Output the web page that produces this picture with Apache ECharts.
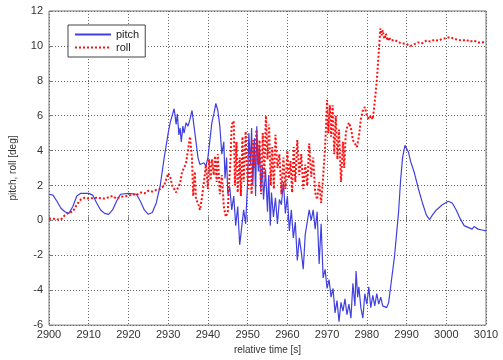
<!DOCTYPE html>
<html>
<head>
<meta charset="utf-8">
<script src="https://cdn.jsdelivr.net/npm/echarts@6/dist/echarts.min.js"></script>
<style>
  html, body { margin: 0; padding: 0; background: #fff; }
  #chart { width: 503px; height: 360px; }
</style>
</head>
<body>
<div id="chart"></div>
<script>
// pitch [t, deg]
var pitch = [
  [2900, 1.5], [2901, 1.45], [2902, 1.1], [2903, 0.7], [2904, 0.5], [2905, 0.4], [2906, 0.8], [2907, 1.4],
  [2908, 1.55], [2910, 1.55], [2911, 1.45], [2912, 1.0], [2913, 0.6], [2914, 0.4], [2915, 0.35], [2916, 0.6],
  [2917, 1.1], [2918, 1.5], [2920, 1.55], [2922, 1.5], [2923, 1.1], [2924, 0.6], [2925, 0.35], [2925.5, 0.3],
  [2926, 0.45], [2927, 1.0], [2928, 2.0], [2929, 3.6], [2930, 5.0], [2930.5, 5.6], [2931, 5.7], [2931.5, 6.4],
  [2932, 5.5], [2932.3, 6.1], [2932.7, 4.9], [2933, 5.3], [2933.3, 4.5], [2933.7, 5.4], [2934, 5.0], [2934.5, 5.6],
  [2935, 5.4], [2935.5, 5.8], [2936, 6.3], [2936.5, 5.4], [2937, 4.5], [2937.5, 3.6], [2938, 3.2], [2939, 3.3],
  [2939.5, 3.1], [2940, 3.6], [2940.5, 4.6], [2941, 5.6], [2941.5, 6.1], [2942, 6.7], [2942.5, 6.3], [2943, 5.4],
  [2943.5, 3.8], [2944, 4.5], [2944.3, 2.4], [2944.7, 3.6], [2945, 1.5], [2945.5, 1.9], [2946, 0.6], [2946.5, 1.4],
  [2947, -0.3], [2947.5, 0.8], [2948, -1.4], [2948.5, -0.4], [2949, 0.6], [2949.5, -0.2], [2950, 2.2], [2950.3, 5.0],
  [2950.7, 3.2], [2951, 5.3], [2951.3, 2.0], [2951.7, 4.7], [2952, 1.4], [2952.3, 5.4], [2952.7, 2.8], [2953, 4.3],
  [2953.3, 1.8], [2953.7, 3.1], [2954, 1.2], [2954.5, 2.9], [2955, 0.5], [2955.3, 2.6], [2955.7, -0.3], [2956, 1.6],
  [2956.5, 0.2], [2957, 1.3], [2957.5, -0.2], [2958, 1.2], [2958.5, 0.9], [2959, 2.2], [2959.5, 0.4], [2960, 1.4],
  [2960.5, -0.6], [2961, 0.6], [2961.5, -1.0], [2962, -0.1], [2962.5, -2.3], [2963, -1.0], [2963.5, -1.8], [2964, -2.8],
  [2964.5, -0.8], [2965, -0.1], [2965.5, 0.6], [2966, 0.0], [2966.5, 0.6], [2967, -0.5], [2967.5, 0.5], [2968, -2.5],
  [2968.5, -0.2], [2969, -3.3], [2969.5, -2.8], [2970, -3.9], [2970.5, -3.4], [2971, -4.4], [2971.5, -3.9], [2972, -5.3],
  [2972.5, -4.6], [2973, -5.8], [2973.5, -4.7], [2974, -5.2], [2974.5, -4.5], [2975, -5.4], [2975.5, -4.8], [2976, -5.6],
  [2976.5, -3.6], [2977, -4.9], [2977.3, -2.9], [2977.7, -4.4], [2978, -3.8], [2978.5, -5.0], [2979, -5.6], [2979.5, -4.2],
  [2980, -4.8], [2980.5, -3.8], [2981, -5.0], [2981.5, -4.3], [2982, -4.9], [2982.5, -4.2], [2983, -4.8], [2983.5, -4.4],
  [2984, -4.9], [2985, -5.0], [2985.5, -4.7], [2986, -3.8], [2987, -2.0], [2988, 0.5], [2988.5, 2.3], [2989, 3.6],
  [2989.6, 4.3], [2990, 4.2], [2990.5, 3.9], [2991, 3.4], [2992, 2.7], [2993, 1.8], [2994, 1.0], [2995, 0.3],
  [2995.8, 0.05], [2996.5, 0.3], [2997.5, 0.6], [2999, 0.9], [3000.5, 1.1], [3001.5, 1.0], [3002.5, 0.6], [3003.5, 0.1],
  [3004.5, -0.3], [3005.5, -0.4], [3006.5, -0.5], [3007, -0.35], [3008, -0.5], [3009, -0.55], [3010, -0.6]
];

// roll [t, deg]
var roll = [
  [2900, 0.1], [2901, 0.1], [2902, 0.05], [2903, 0.05], [2904, 0.3], [2905, 0.45], [2906, 0.5], [2907, 0.9],
  [2908, 1.2], [2909, 1.3], [2910, 1.25], [2912, 1.3], [2914, 1.25], [2916, 1.4], [2917, 1.25], [2918, 1.35],
  [2920, 1.4], [2921, 1.5], [2922, 1.45], [2923, 1.6], [2924, 1.55], [2925, 1.7], [2926, 1.65], [2927, 1.75],
  [2928, 1.8], [2929, 2.0], [2930, 2.7], [2930.5, 2.5], [2931, 2.0], [2932, 1.6], [2932.5, 1.9], [2933, 2.1],
  [2933.5, 2.8], [2934, 3.0], [2934.5, 3.3], [2935, 3.4], [2935.5, 4.8], [2936, 3.5], [2936.3, 1.4], [2936.7, 2.8],
  [2937, 1.2], [2937.5, 1.0], [2938, 0.6], [2938.5, 1.3], [2939, 2.2], [2939.5, 3.2], [2940, 1.8], [2940.3, 3.5],
  [2940.7, 2.3], [2941, 3.5], [2941.5, 2.6], [2941.8, 3.7], [2942.2, 2.2], [2942.5, 3.8], [2943, 1.5], [2943.5, 2.6],
  [2944, 0.8], [2944.5, 0.2], [2945, 0.5], [2945.3, 2.0], [2945.7, 3.5], [2946, 5.5], [2946.5, 5.7], [2946.8, 2.0],
  [2947.2, 4.5], [2947.5, 1.6], [2948, 3.6], [2948.3, 1.4], [2948.7, 4.8], [2949, 2.2], [2949.5, 5.1], [2949.8, 3.0],
  [2950.2, 1.8], [2950.6, 4.1], [2951, 1.5], [2951.4, 4.6], [2951.8, 3.0], [2952.2, 5.2], [2952.6, 3.2], [2953, 4.6],
  [2953.4, 1.5], [2953.8, 5.0], [2954.2, 2.5], [2954.6, 6.0], [2955, 3.5], [2955.4, 5.5], [2955.8, 2.0], [2956.2, 4.2],
  [2956.6, 1.8], [2957, 4.9], [2957.5, 3.0], [2958, 3.8], [2958.5, 1.5], [2959, 3.6], [2959.5, 1.8], [2960, 4.0],
  [2960.4, 2.4], [2960.8, 3.4], [2961.2, 1.6], [2961.6, 4.2], [2962, 2.2], [2962.5, 4.6], [2963, 2.6], [2963.5, 3.8],
  [2964, 1.8], [2964.5, 3.2], [2965, 2.0], [2965.5, 4.4], [2966, 2.5], [2966.5, 3.6], [2967, 1.6], [2967.5, 1.2],
  [2968, 2.2], [2968.5, 1.0], [2969, 2.5], [2969.5, 4.2], [2970, 6.9], [2970.3, 5.0], [2970.7, 6.6], [2971, 4.8],
  [2971.4, 6.6], [2971.8, 3.8], [2972.2, 6.0], [2972.6, 3.5], [2973, 5.2], [2973.5, 2.2], [2974, 4.5], [2974.3, 3.0],
  [2974.7, 5.0], [2975, 5.3], [2975.5, 5.6], [2976, 5.3], [2976.5, 4.6], [2977, 4.4], [2977.5, 4.2], [2978, 4.8],
  [2978.5, 5.8], [2979, 6.3], [2979.5, 6.5], [2980, 6.0], [2980.5, 5.8], [2981, 6.0], [2981.5, 5.8], [2982, 6.8],
  [2982.5, 8.0], [2983, 9.6], [2983.4, 11.0], [2983.7, 10.6], [2984, 10.9], [2984.4, 10.4], [2984.8, 10.7], [2985.2, 10.3],
  [2985.6, 10.5], [2986, 10.3], [2987, 10.35], [2988, 10.2], [2989, 10.15], [2990, 10.1], [2991, 10.0], [2992, 10.1],
  [2993, 10.2], [2994, 10.15], [2995, 10.3], [2996, 10.25], [2997, 10.35], [2998, 10.3], [2999, 10.4], [3000, 10.45],
  [3001, 10.5], [3002, 10.4], [3003, 10.35], [3004, 10.3], [3005, 10.35], [3006, 10.25], [3007, 10.3], [3008, 10.2],
  [3009, 10.2], [3010, 10.25]
];

var xRange = [2900, 3010, 10];
var yRange = [-6, 12, 2];

var chart = echarts.init(document.getElementById('chart'));

var gridLine = { show: true, lineStyle: { color: '#666', type: [1, 2], width: 1 } };
var axisText = { color: '#333', fontSize: 11, fontFamily: 'Liberation Sans' };

chart.setOption({
  animation: false,
  textStyle: { fontFamily: 'Liberation Sans' },
  grid: { left: 45, right: 17, top: 11, bottom: 34, show: true, borderColor: '#777', borderWidth: 1 },
  legend: {
    left: 68, top: 25, orient: 'vertical',
    itemWidth: 36, itemHeight: 10, itemGap: 2,
    padding: [4, 6, 4, 6],
    borderColor: '#444', borderWidth: 1, backgroundColor: '#fff',
    textStyle: { color: '#222', fontSize: 11 },
    itemStyle: { opacity: 0 },
    data: ['pitch', 'roll']
  },
  xAxis: {
    type: 'value', min: xRange[0], max: xRange[1], interval: xRange[2],
    name: 'relative time [s]', nameLocation: 'middle', nameGap: 19,
    nameTextStyle: { color: '#333', fontSize: 10 },
    axisLine: { show: false },
    axisTick: { show: true, inside: true, length: 4, lineStyle: { color: '#777' } },
    axisLabel: Object.assign({ margin: 4, formatter: function (v) { return String(v) } }, axisText),
    splitLine: gridLine
  },
  yAxis: {
    type: 'value', min: yRange[0], max: yRange[1], interval: yRange[2],
    name: 'pitch, roll [deg]', nameLocation: 'middle', nameGap: 31,
    nameTextStyle: { color: '#333', fontSize: 10 },
    axisLine: { show: false },
    axisTick: { show: true, inside: true, length: 4, lineStyle: { color: '#777' } },
    axisLabel: Object.assign({ margin: 6 }, axisText),
    splitLine: gridLine
  },
  series: [
    {
      name: 'pitch', type: 'line', data: pitch, symbol: 'none',
      lineStyle: { color: '#4040e0', width: 1.2 },
      itemStyle: { color: '#4040e0' }
    },
    {
      name: 'roll', type: 'line', data: roll, symbol: 'none',
      lineStyle: { color: '#ff1010', width: 2, type: [2, 2] },
      itemStyle: { color: '#ff1010' }
    }
  ]
});
</script>
</body>
</html>
